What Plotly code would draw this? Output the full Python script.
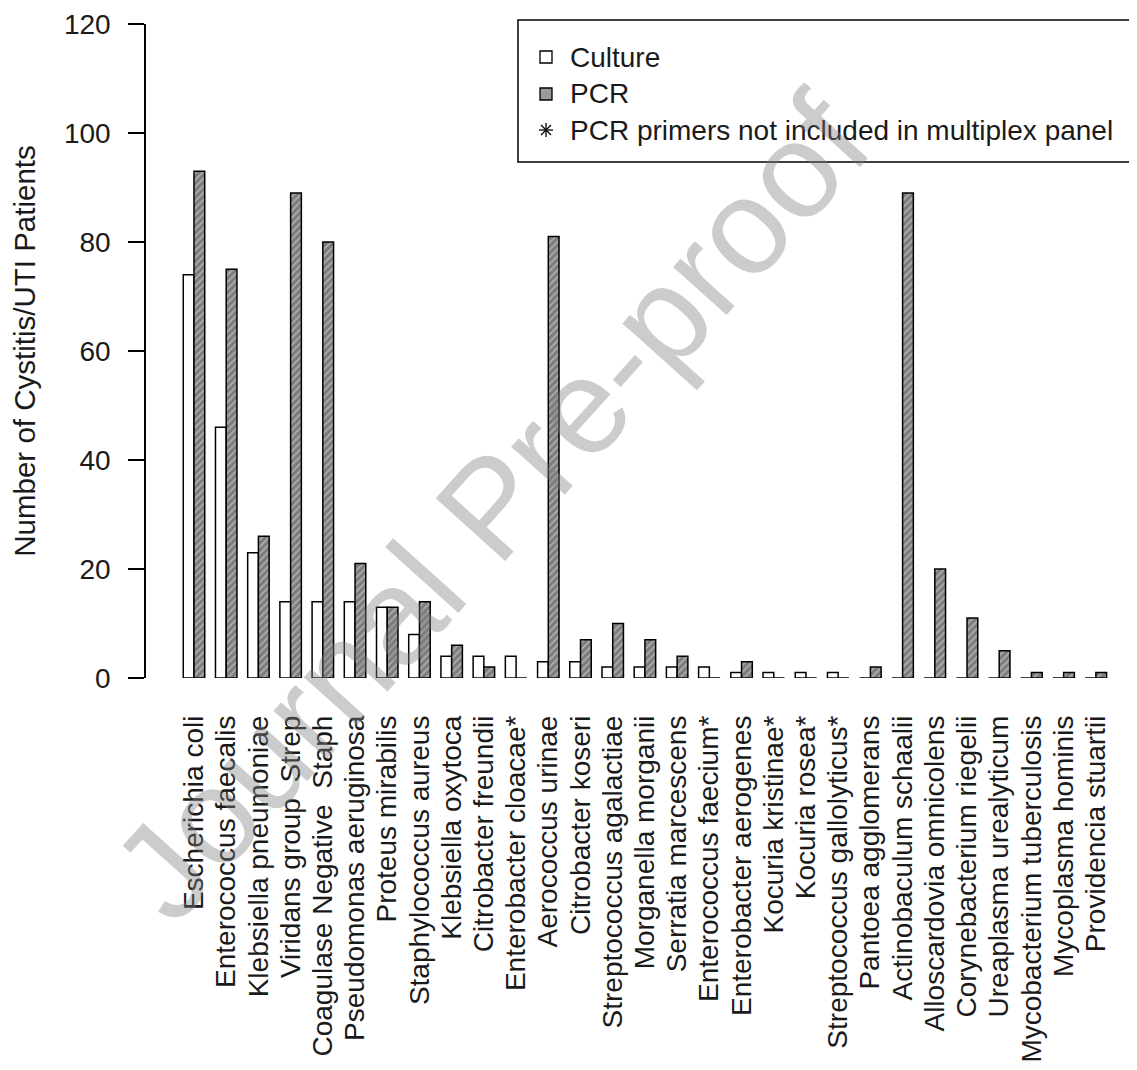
import plotly.graph_objects as go

categories = [
    "Escherichia coli", "Enterococcus faecalis", "Klebsiella pneumoniae",
    "Viridans group  Strep", "Coagulase Negative  Staph", "Pseudomonas aeruginosa",
    "Proteus mirabilis", "Staphylococcus aureus", "Klebsiella oxytoca",
    "Citrobacter freundii", "Enterobacter cloacae*", "Aerococcus urinae",
    "Citrobacter koseri", "Streptococcus agalactiae", "Morganella morganii",
    "Serratia marcescens", "Enterococcus faecium*", "Enterobacter aerogenes",
    "Kocuria kristinae*", "Kocuria rosea*", "Streptococcus gallolyticus*",
    "Pantoea agglomerans", "Actinobaculum schaalii", "Alloscardovia omnicolens",
    "Corynebacterium riegelii", "Ureaplasma urealyticum", "Mycobacterium tuberculosis",
    "Mycoplasma hominis", "Providencia stuartii",
]
culture = [74, 46, 23, 14, 14, 14, 13, 8, 4, 4, 4, 3, 3, 2, 2, 2, 2, 1, 1, 1, 1,
           0, 0, 0, 0, 0, 0, 0, 0]
pcr = [93, 75, 26, 89, 80, 21, 13, 14, 6, 2, 0, 81, 7, 10, 7, 4, 0, 3, 0, 0, 0,
       2, 89, 20, 11, 5, 1, 1, 1]
y_ticks = [0, 20, 40, 60, 80, 100, 120]
legend_labels = ["Culture", "PCR", "PCR primers not included in multiplex panel"]

FONT = "Liberation Sans, Arial, sans-serif"
TXT = "#1a1a1a"

# figure geometry (page body adds an 8px offset)
W, H = 1129, 1062
L, T, PW, PH = 138, 16, 984, 654
OFF = 8


def px(xs):  # screenshot x -> paper x
    return (xs - OFF - L) / PW


def py(ys):  # screenshot y -> paper y
    return (T + PH - (ys - OFF)) / PH


fig = go.Figure()
fig.add_trace(go.Bar(
    name=legend_labels[0], x=categories, y=culture,
    marker=dict(color="white", line=dict(color="black", width=1.5)),
))
fig.add_trace(go.Bar(
    name=legend_labels[1], x=categories, y=pcr,
    marker=dict(color="#7c7c7c", line=dict(color="black", width=1.5),
                pattern=dict(shape="/", fgcolor="#dcdcdc", bgcolor="#7c7c7c",
                             size=5, solidity=0.35)),
))

fig.update_layout(
    width=W, height=H,
    margin=dict(l=L, r=W - L - PW, t=T, b=H - T - PH),
    paper_bgcolor="white", plot_bgcolor="white",
    barmode="group", bargap=1/3, bargroupgap=0,
    font=dict(family=FONT, size=28, color=TXT),
    showlegend=False,
    xaxis=dict(
        type="category", range=[-1.49, 29.06],
        showline=False, showgrid=False, zeroline=False, ticks="",
        tickangle=-90, tickmode="array", tickvals=categories, ticktext=categories,
        ticklabelstandoff=31, automargin=False,
        tickfont=dict(family=FONT, size=28, color=TXT),
    ),
    yaxis=dict(
        range=[0, 120], tickvals=y_ticks,
        showline=True, linecolor="black", linewidth=1.5,
        ticks="outside", ticklen=16, tickwidth=1.5, tickcolor="black",
        showgrid=False, zeroline=False, ticklabelstandoff=12, automargin=False,
        tickfont=dict(family=FONT, size=28, color=TXT),
        title=dict(text="Number of Cystitis/UTI Patients", standoff=22,
                   font=dict(family=FONT, size=29.5, color=TXT)),
    ),
)

# legend box drawn by hand to match the original spacing
shapes = [dict(type="rect", xref="paper", yref="paper",
               x0=px(518), x1=px(1140), y0=py(162), y1=py(20),
               line=dict(color="black", width=1.5), fillcolor="white", layer="above")]
entry_y = [57, 94, 130]
sx, s = 546, 6
shapes.append(dict(type="rect", xref="paper", yref="paper",
                   x0=px(sx - s), x1=px(sx + s), y0=py(entry_y[0] + s), y1=py(entry_y[0] - s),
                   line=dict(color="black", width=1.3), fillcolor="white", layer="above"))
shapes.append(dict(type="rect", xref="paper", yref="paper",
                   x0=px(sx - s), x1=px(sx + s), y0=py(entry_y[1] + s), y1=py(entry_y[1] - s),
                   line=dict(color="black", width=1.3), fillcolor="#9a9a9a", layer="above"))
ay = entry_y[2]
for (dx0, dy0, dx1, dy1) in [(-7, 0, 7, 0), (0, -7, 0, 7), (-5, -5, 5, 5), (-5, 5, 5, -5)]:
    shapes.append(dict(type="line", xref="paper", yref="paper",
                       x0=px(sx + dx0), y0=py(ay + dy0), x1=px(sx + dx1), y1=py(ay + dy1),
                       line=dict(color="black", width=1.3), layer="above"))
fig.update_layout(shapes=shapes)

for lab, yy in zip(legend_labels, entry_y):
    fig.add_annotation(text=lab, xref="paper", yref="paper", x=px(568), y=py(yy),
                       xanchor="left", yanchor="middle", showarrow=False,
                       font=dict(family=FONT, size=28, color=TXT))

fig.add_annotation(
    text="Journal Pre-proof", xref="paper", yref="paper",
    x=0.35, y=0.262, xanchor="center", yanchor="middle",
    textangle=-48, showarrow=False,
    font=dict(family=FONT, size=136, color="rgba(128,128,128,0.40)"),
)

fig.write_html("out.html")
